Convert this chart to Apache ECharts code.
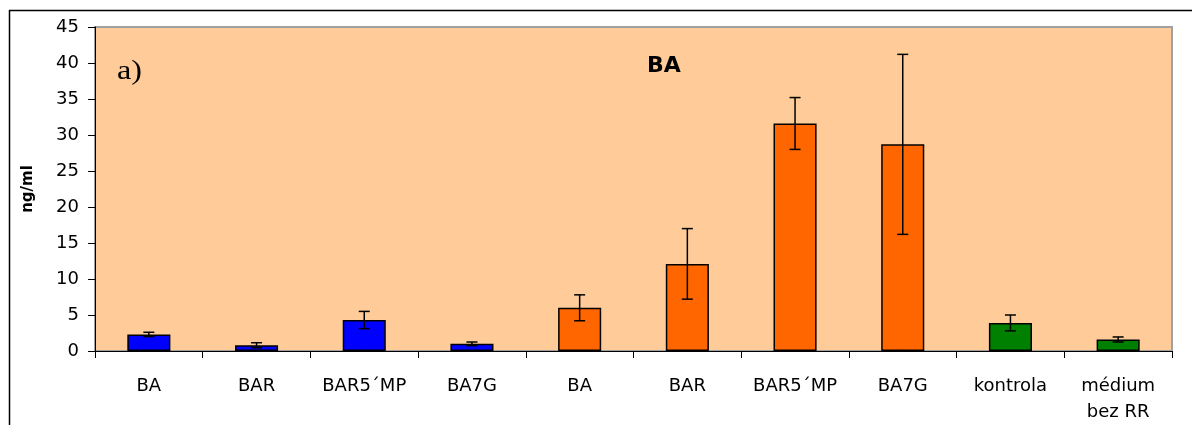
<!DOCTYPE html>
<html><head><meta charset="utf-8">
<script src="https://cdn.jsdelivr.net/npm/echarts@6/dist/echarts.min.js"></script>
<style>html,body{margin:0;padding:0;background:#fff}#c{width:1192px;height:425px}</style>
</head><body><div id="c"></div>
<script>
const categories = ['BA','BAR','BAR5´MP','BA7G','BA','BAR','BAR5´MP','BA7G','kontrola','médium\nbez RR'];
const values = [2.3, 0.8, 4.3, 1.0, 6.0, 12.1, 31.6, 28.7, 3.9, 1.6];
const errors = [0.3, 0.35, 1.2, 0.25, 1.8, 4.9, 3.6, 12.5, 1.1, 0.35];
const colors = ['#0000FF','#0000FF','#0000FF','#0000FF','#FF6600','#FF6600','#FF6600','#FF6600','#008000','#008000'];
const yTicks = [0,5,10,15,20,25,30,35,40,45];

const chart = echarts.init(document.getElementById('c'), null, {renderer:'canvas'});
const font = '"DejaVu Sans", "Liberation Sans", Arial, sans-serif';
chart.setOption({
  animation:false,
  backgroundColor:'#fff',
  title:{text:'BA', left:659, top:50, textAlign:'center',
    textStyle:{fontFamily:font, fontWeight:'bold', fontSize:22, color:'#000'}},
  graphic:[
    {type:'line', shape:{x1:9, y1:10.5, x2:1192, y2:10.5}, style:{stroke:'#000', lineWidth:1.5}},
    {type:'line', shape:{x1:9.5, y1:10, x2:9.5, y2:425}, style:{stroke:'#000', lineWidth:1.5}},
    {type:'text', x:117, y:58, scaleX:1.15, z:20,
      style:{text:'a)', fontFamily:'Liberation Serif', fontSize:28, fontWeight:'normal', fill:'#000', verticalAlign:'top', textVerticalAlign:'top'}}
  ],
  grid:{left:95, right:20, top:27, bottom:72, show:true, backgroundColor:'#FFCC99', borderColor:'#a0a0a0', borderWidth:2},
  xAxis:{type:'category', data:categories,
    axisLine:{lineStyle:{color:'#000', width:1}},
    axisTick:{show:true, length:7, lineStyle:{color:'#000'}},
    axisLabel:{interval:0, margin:22, fontFamily:font, fontSize:18, color:'#000', lineHeight:26}},
  yAxis:{type:'value', min:0, max:45, interval:5,
    name:'ng/ml', nameLocation:'middle', nameGap:59, nameRotate:90,
    nameTextStyle:{fontFamily:font, fontWeight:'bold', fontSize:15, color:'#000'},
    axisLine:{show:true, lineStyle:{color:'#000', width:1}},
    axisTick:{show:true, length:7, lineStyle:{color:'#000'}},
    splitLine:{show:false},
    axisLabel:{margin:16, fontFamily:font, fontSize:18, color:'#000',
      formatter:v => yTicks.includes(v) ? String(v) : ''}},
  series:[
    {type:'bar', barWidth:'40%',
      data: values.map((v,i)=>({value:v, itemStyle:{color:colors[i]}})),
      itemStyle:{borderColor:'#000', borderWidth:1.5}},
    {type:'custom', z:10,
      data: values.map((v,i)=>[i, v-errors[i], v+errors[i]]),
      renderItem:(params, api)=>{
        const x = api.value(0);
        const lo = api.coord([x, api.value(1)]);
        const hi = api.coord([x, api.value(2)]);
        const w = 5.5;
        const st = {stroke:'#000', lineWidth:1.5};
        return {type:'group', children:[
          {type:'line', shape:{x1:hi[0], y1:hi[1], x2:lo[0], y2:lo[1]}, style:st},
          {type:'line', shape:{x1:hi[0]-w, y1:hi[1], x2:hi[0]+w, y2:hi[1]}, style:st},
          {type:'line', shape:{x1:lo[0]-w, y1:lo[1], x2:lo[0]+w, y2:lo[1]}, style:st}
        ]};
      }}
  ]
});
</script></body></html>
